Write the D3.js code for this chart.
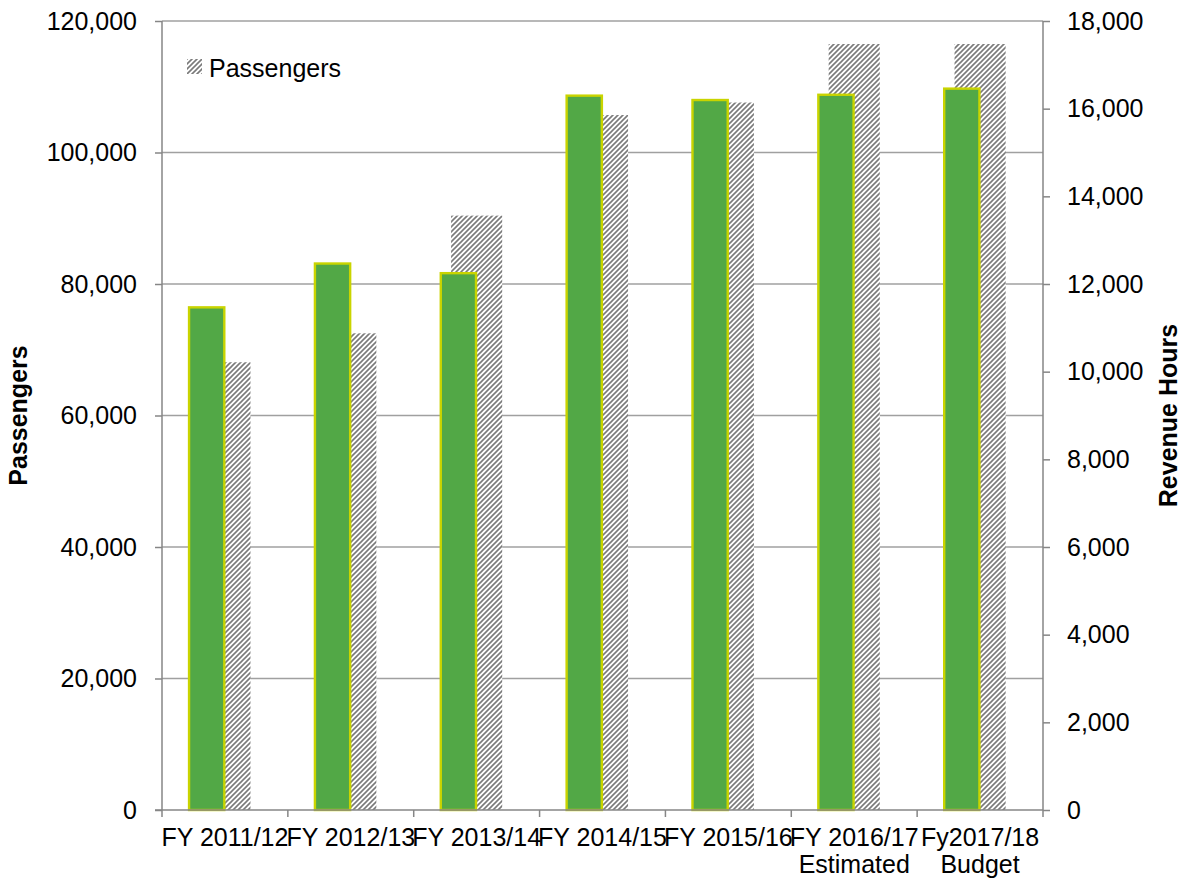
<!DOCTYPE html>
<html>
<head>
<meta charset="utf-8">
<script src="https://cdn.jsdelivr.net/npm/d3@7"></script>
<style>
  body { margin: 0; background: #fff; }
  svg text { font-family: "Liberation Sans", Arial, sans-serif; fill: #000; }
</style>
</head>
<body>
<div class="graph_area"></div>
<script>
// chart data
const categories = ["FY 2011/12", "FY 2012/13", "FY 2013/14", "FY 2014/15", "FY 2015/16", "FY 2016/17", "Fy2017/18"];
const subLabels = ["", "", "", "", "", "Estimated", "Budget"];
const passengers = [68100, 72500, 90400, 105700, 107600, 116500, 116500];
const revenueHours = [11490, 12490, 12270, 16320, 16220, 16340, 16480];
const leftTicks = [0, 20000, 40000, 60000, 80000, 100000, 120000];
const rightTicks = [0, 2000, 4000, 6000, 8000, 10000, 12000, 14000, 16000, 18000];

const W = 1187, H = 879;
const margin = { top: 21, left: 162, right: 144, bottom: 69 };
const width = W - margin.left - margin.right;
const height = H - margin.top - margin.bottom;

const svg = d3.select(".graph_area").append("svg")
  .attr("width", W).attr("height", H);

const defs = svg.append("defs");
const pat = defs.append("pattern")
  .attr("id", "hatch")
  .attr("patternUnits", "userSpaceOnUse")
  .attr("width", 5).attr("height", 5);
pat.append("rect").attr("width", 5).attr("height", 5).attr("fill", "#fff");
pat.append("path")
  .attr("d", "M-1,6 L6,-1 M-2,2 L2,-2 M3,7 L7,3")
  .attr("stroke", "#7a7a7a").attr("stroke-width", 1.6);

const g = svg.append("g").attr("transform", `translate(${margin.left},${margin.top})`);

const x = d3.scaleBand().domain(categories).range([0, width]).padding(0);
const yL = d3.scaleLinear().domain([0, 120000]).range([height, 0]);
const yR = d3.scaleLinear().domain([0, 18000]).range([height, 0]);
const bw = x.bandwidth();
const fmt = d3.format(",");

// gridlines
g.append("g")
  .selectAll("line")
  .data(leftTicks.slice(1))
  .join("line")
  .attr("x1", 0).attr("x2", width)
  .attr("y1", d => yL(d)).attr("y2", d => yL(d))
  .attr("stroke", "#a0a0a0").attr("stroke-width", 1.3);

// passengers (hatched, centred on category)
g.append("g")
  .selectAll("rect")
  .data(passengers)
  .join("rect")
  .attr("x", (d, i) => x(categories[i]) + bw * 0.297)
  .attr("width", bw * 0.406)
  .attr("y", d => yL(d))
  .attr("height", d => height - yL(d))
  .attr("fill", "url(#hatch)");

// revenue hours (green)
g.append("g")
  .selectAll("rect")
  .data(revenueHours)
  .join("rect")
  .attr("x", (d, i) => x(categories[i]) + bw * 0.215)
  .attr("width", bw * 0.28)
  .attr("y", d => yR(d) + 1)
  .attr("height", d => height - yR(d) - 1)
  .attr("fill", "#52a846")
  .attr("stroke", "#c9d400")
  .attr("stroke-width", 2.4);

// axes
const axisColor = "#868686";
const left = g.append("g")
  .call(d3.axisLeft(yL).tickValues(leftTicks).tickFormat(fmt).tickSize(7).tickPadding(18));
const right = g.append("g").attr("transform", `translate(${width},0)`)
  .call(d3.axisRight(yR).tickValues(rightTicks).tickFormat(fmt).tickSize(7).tickPadding(17));
const bottom = g.append("g").attr("transform", `translate(0,${height})`)
  .call(d3.axisBottom(x).tickSize(0).tickFormat(""));

[left, right].forEach(a => {
  a.select(".domain").attr("d", `M0,0V${height}`);
});
bottom.select(".domain").attr("d", `M-7,0H${width}`);
[left, right, bottom].forEach(a => {
  a.selectAll(".domain, .tick line").attr("stroke", axisColor).attr("stroke-width", 1.5);
  a.selectAll("text").attr("font-size", 25).attr("font-family", "Liberation Sans, Arial, sans-serif").attr("fill", "#000");
});

// category boundary ticks
bottom.append("g")
  .selectAll("line")
  .data(d3.range(categories.length + 1))
  .join("line")
  .attr("x1", i => i * bw).attr("x2", i => i * bw)
  .attr("y1", 0).attr("y2", 7)
  .attr("stroke", axisColor).attr("stroke-width", 1.5);

// category labels
const lab = bottom.append("g")
  .selectAll("text")
  .data(categories)
  .join("text")
  .attr("x", d => x(d) + bw / 2)
  .attr("y", 36)
  .attr("text-anchor", "middle")
  .attr("font-size", 25);
lab.append("tspan").text(d => d);
lab.append("tspan")
  .attr("x", d => x(d) + bw / 2)
  .attr("dy", 27)
  .text((d, i) => subLabels[i]);

// axis titles
svg.append("text")
  .attr("transform", `translate(27,${margin.top + height / 2}) rotate(-90)`)
  .attr("text-anchor", "middle")
  .attr("font-size", 25).attr("font-weight", "bold")
  .text("Passengers");
svg.append("text")
  .attr("transform", `translate(1177,${margin.top + height / 2}) rotate(-90)`)
  .attr("text-anchor", "middle")
  .attr("font-size", 25).attr("font-weight", "bold")
  .text("Revenue Hours");

// legend
const leg = svg.append("g").attr("transform", "translate(187,59)");
leg.append("rect").attr("width", 15).attr("height", 15).attr("fill", "url(#hatch)");
leg.append("text").attr("x", 22).attr("y", 18).attr("font-size", 25).text("Passengers");
</script>
</body>
</html>
